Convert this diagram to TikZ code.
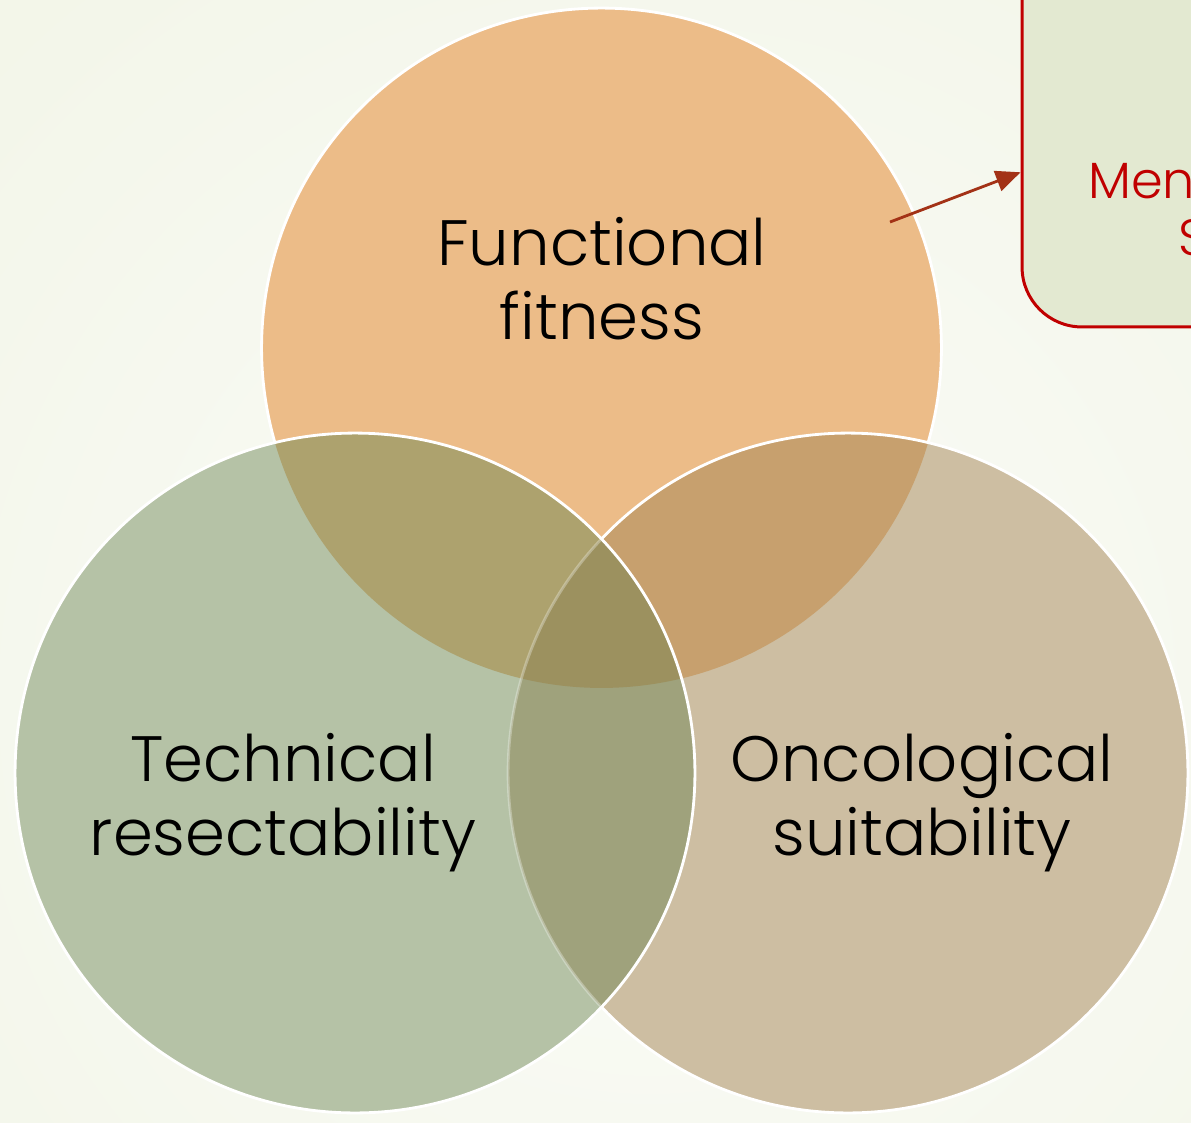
\documentclass[tikz,border=0pt]{standalone}
\usepackage{fontspec}
\setmainfont{Poppins}[UprightFont=* Light]
\usetikzlibrary{arrows.meta}

\definecolor{bgout}{HTML}{EBF0DB}
\definecolor{bgin}{HTML}{FBFCF8}
\definecolor{topc}{HTML}{ECBC88}
\definecolor{leftc}{HTML}{B5C2A6}
\definecolor{rightc}{HTML}{CDBEA2}
\definecolor{tlc}{HTML}{ADA26E}
\definecolor{trc}{HTML}{C7A06E}
\definecolor{lrc}{HTML}{9FA27C}
\definecolor{tlrc}{HTML}{9C915F}
\definecolor{boxfill}{HTML}{E3E9D1}
\definecolor{boxred}{HTML}{C00000}
\definecolor{arrowred}{HTML}{A33216}

\tikzset{
  rim/.style={draw=white,line width=1.6pt},
  label/.style={font=\fontsize{36.5}{42}\selectfont,align=center,inner sep=0pt},
  note/.style={font=\fontsize{29}{32}\selectfont,text=boxred,inner sep=0pt,anchor=base west}
}

\begin{document}
\begin{tikzpicture}[x=0.02cm,y=-0.02cm]
  \useasboundingbox (0,0) rectangle (1191,1123);
  \clip (0,0) rectangle (1191,1123);
  \shade[inner color=bgin,outer color=bgout] (-1150,-1100) rectangle (2450,2500);

  \def\rad{6.8cm}
  \coordinate (T) at (601.5,348);
  \coordinate (L) at (355,773);
  \coordinate (R) at (848,773);

  % top circle, then the right one over it
  \fill[topc,rim] (T) circle[radius=\rad];
  \fill[rightc] (R) circle[radius=\rad];
  \begin{scope}
    \clip (T) circle[radius=\rad];
    \fill[trc] (R) circle[radius=\rad];
  \end{scope}
  \draw[rim] (R) circle[radius=\rad];

  % left circle last
  \fill[leftc] (L) circle[radius=\rad];
  \begin{scope}
    \clip (L) circle[radius=\rad];
    \fill[tlc] (T) circle[radius=\rad];
    \fill[lrc] (R) circle[radius=\rad];
    \clip (T) circle[radius=\rad];
    \fill[tlrc] (R) circle[radius=\rad];
  \end{scope}
  \begin{scope}
    \clip (L) circle[radius=\rad];
    \draw[rim,draw opacity=0.3] (R) circle[radius=\rad];
  \end{scope}
  \draw[rim] (L) circle[radius=\rad];

  \node[label] (fit)  at (602,279) {Functional\\fitness};
  \node[label] (tech) at (283,803) {Technical\\resectability};
  \node[label] (onc)  at (922,803) {Oncological\\suitability};

  \node[draw=boxred,fill=boxfill,line width=1.7pt,rounded corners=1.2cm,
        minimum width=8cm,minimum height=9.24cm,inner sep=0pt] (box) at (1222,96) {};
  \node[note] (men) at (1088,198) {Men};
  \node[note] (s)   at (1178,255) {S};

  \coordinate (tail) at (890,222);
  \draw[arrowred,line width=1.6pt,-{Triangle[length=14pt,width=12pt]}] (tail) -- (box);
\end{tikzpicture}
\end{document}
